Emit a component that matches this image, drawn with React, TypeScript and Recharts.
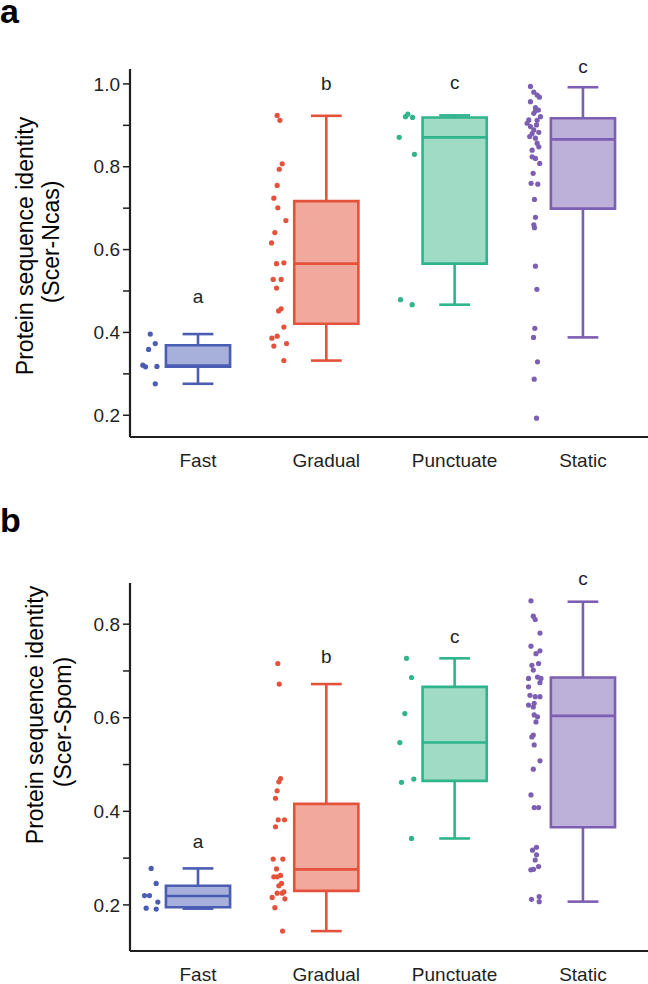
import React from 'react';
import {
  ComposedChart, XAxis, YAxis, Scatter, ReferenceArea, ReferenceLine,
} from 'recharts';

const categories = ['Fast', 'Gradual', 'Punctuate', 'Static'];
const strokeColors = ['#4b5cb3', '#e4523c', '#2fb48b', '#7c5fb2'];
const fillColors = ['#a6b0da', '#f2a99d', '#a0dcc5', '#bdb1d9'];
const groupLetters = ['a', 'b', 'c', 'c'];

// [lower whisker, Q1, median, Q3, upper whisker]
const ncasBoxes = [
  [0.276, 0.317, 0.32, 0.369, 0.396],
  [0.332, 0.421, 0.566, 0.717, 0.923],
  [0.467, 0.566, 0.871, 0.919, 0.924],
  [0.388, 0.699, 0.866, 0.917, 0.992],
];
const spomBoxes = [
  [0.192, 0.195, 0.219, 0.241, 0.278],
  [0.144, 0.23, 0.276, 0.416, 0.672],
  [0.342, 0.465, 0.547, 0.666, 0.727],
  [0.207, 0.366, 0.604, 0.686, 0.848],
];

// y of the significance letters
const ncasLetterY = [0.47, 0.986, 0.987, 1.026];
const spomLetterY = [0.321, 0.716, 0.759, 0.883];

// points: [jitter, value]
const ncasFast = [
  [-0.372, 0.396], [-0.333, 0.373], [-0.385, 0.359], [-0.43, 0.321],
  [-0.409, 0.317], [-0.32, 0.318], [-0.333, 0.276],
];
const ncasGradual = [
  [-0.383, 0.924], [-0.362, 0.912], [-0.344, 0.807], [-0.367, 0.794],
  [-0.383, 0.755], [-0.409, 0.724], [-0.378, 0.701], [-0.315, 0.67],
  [-0.401, 0.641], [-0.427, 0.616], [-0.388, 0.566], [-0.331, 0.568],
  [-0.414, 0.528], [-0.352, 0.528], [-0.388, 0.507], [-0.352, 0.457],
  [-0.372, 0.452], [-0.331, 0.413], [-0.424, 0.386], [-0.383, 0.391],
  [-0.409, 0.367], [-0.31, 0.373], [-0.331, 0.332],
];
const ncasPunctuate = [
  [-0.383, 0.921], [-0.365, 0.927], [-0.328, 0.919], [-0.432, 0.871],
  [-0.313, 0.83], [-0.422, 0.479], [-0.331, 0.467],
];
const ncasStatic = [
  [-0.409, 0.994], [-0.383, 0.98], [-0.357, 0.973], [-0.339, 0.968],
  [-0.409, 0.957], [-0.37, 0.943], [-0.347, 0.937], [-0.37, 0.935],
  [-0.383, 0.929], [-0.331, 0.921], [-0.422, 0.913], [-0.357, 0.912],
  [-0.435, 0.905], [-0.362, 0.901], [-0.409, 0.897], [-0.383, 0.889],
  [-0.344, 0.883], [-0.396, 0.88], [-0.415, 0.873], [-0.37, 0.869],
  [-0.357, 0.857], [-0.344, 0.848], [-0.396, 0.84], [-0.396, 0.824],
  [-0.37, 0.82], [-0.337, 0.808], [-0.388, 0.784], [-0.404, 0.76],
  [-0.352, 0.758], [-0.378, 0.721], [-0.37, 0.678], [-0.383, 0.66],
  [-0.378, 0.653], [-0.37, 0.56], [-0.359, 0.504], [-0.375, 0.41],
  [-0.385, 0.388], [-0.354, 0.329], [-0.38, 0.287], [-0.362, 0.193],
];

const spomFast = [
  [-0.365, 0.278], [-0.326, 0.246], [-0.417, 0.22], [-0.378, 0.22],
  [-0.313, 0.206], [-0.404, 0.193], [-0.326, 0.191],
];
const spomGradual = [
  [-0.378, 0.716], [-0.367, 0.672], [-0.357, 0.47], [-0.37, 0.463],
  [-0.383, 0.444], [-0.396, 0.428], [-0.326, 0.382], [-0.375, 0.382],
  [-0.396, 0.367], [-0.414, 0.298], [-0.339, 0.298], [-0.388, 0.277],
  [-0.357, 0.263], [-0.409, 0.26], [-0.383, 0.26], [-0.349, 0.246],
  [-0.37, 0.241], [-0.331, 0.228], [-0.383, 0.225], [-0.422, 0.216],
  [-0.344, 0.225], [-0.323, 0.213], [-0.401, 0.194], [-0.341, 0.144],
];
const spomPunctuate = [
  [-0.375, 0.727], [-0.336, 0.686], [-0.388, 0.609], [-0.427, 0.547],
  [-0.414, 0.462], [-0.318, 0.469], [-0.336, 0.342],
];
const spomStatic = [
  [-0.405, 0.85], [-0.387, 0.817], [-0.372, 0.81], [-0.335, 0.781],
  [-0.405, 0.753], [-0.335, 0.743], [-0.366, 0.737], [-0.398, 0.712],
  [-0.346, 0.716], [-0.387, 0.702], [-0.424, 0.684], [-0.354, 0.687],
  [-0.327, 0.684], [-0.335, 0.675], [-0.424, 0.666], [-0.413, 0.648],
  [-0.372, 0.645], [-0.335, 0.645], [-0.424, 0.627], [-0.38, 0.631],
  [-0.387, 0.623], [-0.38, 0.606], [-0.354, 0.602], [-0.366, 0.591],
  [-0.387, 0.563], [-0.398, 0.559], [-0.38, 0.542], [-0.335, 0.508],
  [-0.387, 0.49], [-0.405, 0.435], [-0.38, 0.408], [-0.346, 0.408],
  [-0.362, 0.323], [-0.393, 0.317], [-0.362, 0.307], [-0.372, 0.296],
  [-0.346, 0.282], [-0.406, 0.275], [-0.385, 0.276], [-0.401, 0.212],
  [-0.341, 0.218], [-0.341, 0.207],
];

const ncasTicks = [0.2, 0.3, 0.4, 0.5, 0.6, 0.7, 0.8, 0.9, 1.0];
const spomTicks = [0.2, 0.3, 0.4, 0.5, 0.6, 0.7, 0.8];

const FONT = '"Liberation Sans", Arial, Helvetica, sans-serif';
const INK = '#1f1f1f';
const HALF_BOX = 0.25;
const HALF_CAP = 0.12;

type Pt = number[];

interface PanelProps {
  top: number;
  height: number;
  plotTop: number;
  axisHeight: number;
  domain: [number, number];
  ticks: number[];
  boxes: number[][];
  groups: Pt[][];
  letterY: number[];
  letter: string;
  letterBase: number;
  title: string[];
  titleX: number[];
  titleY: number[];
}

const Panel = (p: PanelProps) => {
  const letters = groupLetters.map((t, i) => ({ x: i + 1, y: p.letterY[i], t }));
  return (
    <div style={{ position: 'absolute', left: 0, top: p.top, width: 648, height: p.height }}>
      <ComposedChart
        width={648}
        height={p.height}
        margin={{ top: p.plotTop, right: 0, bottom: 0, left: 0 }}
      >
        <XAxis
          type="number"
          dataKey="x"
          domain={[0.47, 4.507]}
          ticks={[1, 2, 3, 4]}
          tickFormatter={(v: number) => categories[v - 1]}
          height={p.axisHeight}
          tickLine={false}
          tickSize={0}
          tickMargin={17}
          axisLine={{ stroke: INK, strokeWidth: 2.2 }}
          tick={{ fontSize: 19, fill: INK, fontFamily: FONT }}
        />
        <YAxis
          type="number"
          dataKey="y"
          domain={p.domain}
          ticks={p.ticks}
          interval={0}
          width={130}
          tickSize={7}
          tickMargin={3}
          tickFormatter={(v: number) => (Math.round(v * 10) % 2 === 0 ? v.toFixed(1) : '')}
          axisLine={{ stroke: INK, strokeWidth: 2.2 }}
          tickLine={{ stroke: INK, strokeWidth: 1.5 }}
          tick={{ fontSize: 19, fill: INK, fontFamily: FONT }}
        />
        {p.boxes.map((b, i) => {
          const c = i + 1;
          return (
            <ReferenceArea
              key={'box' + i}
              x1={c - HALF_BOX}
              x2={c + HALF_BOX}
              y1={b[1]}
              y2={b[3]}
              fill={fillColors[i]}
              fillOpacity={1}
              stroke={strokeColors[i]}
              strokeWidth={2.6}
            />
          );
        })}
        {p.boxes.map((b, i) => {
          const c = i + 1;
          const s = strokeColors[i];
          return [
            <ReferenceLine key={'med' + i} segment={[{ x: c - HALF_BOX, y: b[2] }, { x: c + HALF_BOX, y: b[2] }]} stroke={s} strokeWidth={2.6} />,
            <ReferenceLine key={'wu' + i} segment={[{ x: c, y: b[3] }, { x: c, y: b[4] }]} stroke={s} strokeWidth={2.6} />,
            <ReferenceLine key={'wl' + i} segment={[{ x: c, y: b[0] }, { x: c, y: b[1] }]} stroke={s} strokeWidth={2.6} />,
            <ReferenceLine key={'cu' + i} segment={[{ x: c - HALF_CAP, y: b[4] }, { x: c + HALF_CAP, y: b[4] }]} stroke={s} strokeWidth={2.6} />,
            <ReferenceLine key={'cl' + i} segment={[{ x: c - HALF_CAP, y: b[0] }, { x: c + HALF_CAP, y: b[0] }]} stroke={s} strokeWidth={2.6} />,
          ];
        })}
        {p.groups.map((g, i) => (
          <Scatter
            key={'pts' + i}
            data={g.map(([j, v]) => ({ x: i + 1 + j, y: v }))}
            isAnimationActive={false}
            shape={(s: any) => <circle cx={s.cx} cy={s.cy} r={2.6} fill={strokeColors[i]} />}
          />
        ))}
        <Scatter
          data={letters}
          isAnimationActive={false}
          shape={(s: any) => (
            <text x={s.cx} y={s.cy} textAnchor="middle" fontSize={19} fontFamily={FONT} fill={INK}>
              {s.payload.t}
            </text>
          )}
        />
      </ComposedChart>
      <svg
        width={648}
        height={p.height}
        style={{ position: 'absolute', left: 0, top: 0, pointerEvents: 'none' }}
      >
        <text x={0} y={p.letterBase} fontSize={34} fontWeight="bold" fontFamily={FONT} fill="#000">
          {p.letter}
        </text>
        {p.title.map((t, k) => (
          <text
            key={k}
            x={p.titleX[k]}
            y={p.titleY[k]}
            transform={`rotate(-90 ${p.titleX[k]} ${p.titleY[k]})`}
            textAnchor="middle"
            dominantBaseline="central"
            fontSize={23}
            fontFamily={FONT}
            fill="#000"
          >
            {t}
          </text>
        ))}
      </svg>
    </div>
  );
};

export default function App() {
  return (
    <div style={{ position: 'absolute', left: 0, top: 0, width: 648, height: 984, background: '#fff' }}>
      <Panel
        top={0}
        height={490}
        plotTop={69}
        axisHeight={53}
        domain={[0.1475, 1.036]}
        ticks={ncasTicks}
        boxes={ncasBoxes}
        groups={[ncasFast, ncasGradual, ncasPunctuate, ncasStatic]}
        letterY={ncasLetterY}
        letter="a"
        letterBase={23}
        title={['Protein sequence identity', '(Scer-Ncas)']}
        titleX={[25, 51]}
        titleY={[246, 242]}
      />
      <Panel
        top={490}
        height={494}
        plotTop={93}
        axisHeight={33}
        domain={[0.1015, 0.888]}
        ticks={spomTicks}
        boxes={spomBoxes}
        groups={[spomFast, spomGradual, spomPunctuate, spomStatic]}
        letterY={spomLetterY}
        letter="b"
        letterBase={42}
        title={['Protein sequence identity', '(Scer-Spom)']}
        titleX={[35, 63]}
        titleY={[225, 232]}
      />
    </div>
  );
}
